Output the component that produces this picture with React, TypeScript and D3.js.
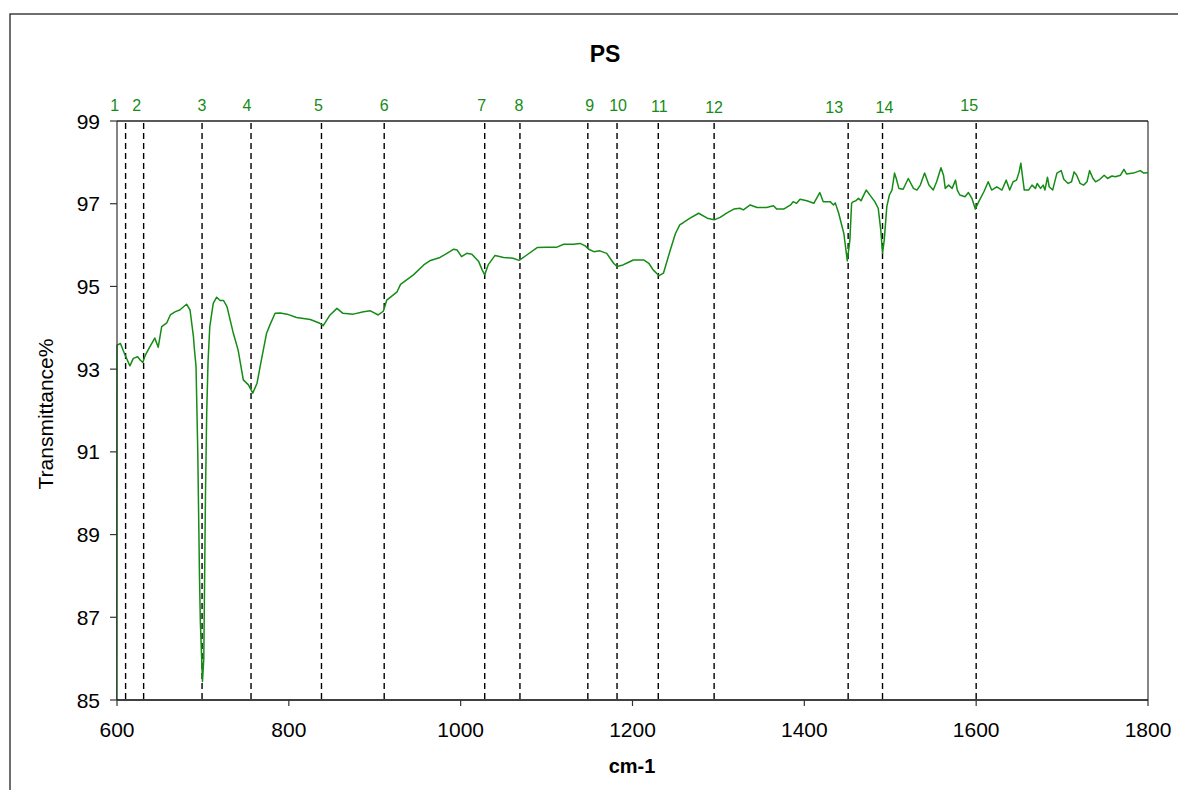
import React from "react";
import * as d3 from "d3";

// ---- data ----
const wavenumber = [
  599, 600, 604, 609, 615, 619, 624, 627, 630, 633, 638, 644, 648, 652, 658, 662, 668, 673, 681, 685, 689, 690, 692,
  694, 695, 696, 697, 699.5, 701, 702, 703, 704.4, 706, 708, 712, 716, 720, 724, 728, 735, 741, 747, 753, 758, 763,
  768, 774, 778, 784, 790, 798, 809, 825, 836, 840, 848, 856, 863, 875, 887, 895, 904, 910, 914, 926, 930, 945, 957,
  964, 976, 984, 992, 996, 1001, 1007, 1013, 1021, 1025, 1028, 1032, 1040, 1050, 1061, 1068, 1077, 1089, 1100, 1112,
  1120, 1131, 1139, 1145, 1149, 1155, 1162, 1170, 1178, 1182, 1189, 1193, 1201, 1213, 1219, 1224, 1231, 1236, 1244,
  1250, 1255, 1259, 1267, 1277, 1287, 1295, 1302, 1310, 1318, 1325, 1329, 1337, 1345, 1356, 1364, 1368, 1376, 1384,
  1387, 1391, 1395, 1403, 1411, 1418, 1422, 1430, 1434, 1436, 1440, 1446, 1450, 1453, 1455, 1457, 1460, 1463, 1466,
  1468, 1472, 1477, 1482, 1486, 1489, 1491, 1493, 1496, 1499, 1502, 1505, 1507, 1510, 1515, 1521, 1527, 1531, 1535,
  1540, 1545, 1550, 1554, 1559, 1562, 1564, 1568, 1572, 1576, 1578, 1581, 1587, 1591, 1595, 1599, 1603, 1609, 1614,
  1618, 1624, 1630, 1635, 1639, 1643, 1647, 1650, 1652, 1654, 1656, 1661, 1665, 1669, 1671, 1675, 1678, 1680, 1683,
  1685, 1689, 1694, 1699, 1702, 1707, 1711, 1714, 1717, 1721, 1725, 1729, 1732, 1736, 1739, 1744, 1749, 1753, 1758,
  1762, 1768, 1772, 1775, 1783, 1791, 1795, 1800,
];
const transmittance = [
  80, 93.58, 93.62, 93.36, 93.08, 93.26, 93.3, 93.22, 93.16, 93.34, 93.53, 93.75, 93.53, 94.03, 94.12, 94.31, 94.39,
  94.43, 94.57, 94.43, 93.78, 93.5, 93.06, 91.0, 89.5, 88.0, 86.9, 85.45, 86.0, 88.0, 90.0, 91.94, 93.2, 94.03, 94.59,
  94.74, 94.66, 94.66, 94.51, 93.9, 93.46, 92.74, 92.62, 92.42, 92.66, 93.22, 93.86, 94.07, 94.35, 94.36, 94.33,
  94.25, 94.2, 94.11, 94.05, 94.31, 94.47, 94.35, 94.33, 94.39, 94.41, 94.31, 94.4, 94.67, 94.87, 95.05, 95.28,
  95.52, 95.62, 95.7, 95.8, 95.9, 95.88, 95.72, 95.8, 95.78, 95.6, 95.4, 95.28, 95.52, 95.75, 95.7, 95.68, 95.63,
  95.76, 95.94, 95.95, 95.95, 96.02, 96.02, 96.04, 95.98, 95.9, 95.84, 95.86, 95.8, 95.56, 95.48, 95.52, 95.56,
  95.64, 95.64, 95.56, 95.4, 95.26, 95.32, 95.88, 96.28, 96.49, 96.54, 96.65, 96.77, 96.65, 96.61, 96.67, 96.78,
  96.87, 96.89, 96.85, 96.97, 96.91, 96.91, 96.95, 96.87, 96.87, 96.97, 97.05, 97.01, 97.11, 97.07, 97.01, 97.27,
  97.05, 97.05, 96.97, 97.02, 96.77, 96.28, 95.62, 96.12, 97.01, 97.05, 97.07, 97.13, 97.07, 97.16, 97.33, 97.19,
  97.05, 96.89, 96.36, 95.8, 96.12, 96.93, 97.21, 97.33, 97.74, 97.61, 97.37, 97.35, 97.61, 97.37, 97.33, 97.45,
  97.74, 97.45, 97.33, 97.53, 97.87, 97.69, 97.37, 97.45, 97.37, 97.57, 97.33, 97.21, 97.17, 97.27, 97.13, 96.87,
  97.05, 97.29, 97.53, 97.33, 97.41, 97.33, 97.57, 97.33, 97.53, 97.57, 97.77, 97.98, 97.65, 97.33, 97.33, 97.45,
  97.37, 97.49, 97.37, 97.45, 97.33, 97.64, 97.41, 97.33, 97.74, 97.8, 97.59, 97.49, 97.53, 97.77, 97.69, 97.49,
  97.45, 97.53, 97.8, 97.61, 97.53, 97.59, 97.69, 97.61, 97.67, 97.65, 97.69, 97.83, 97.72, 97.74, 97.8, 97.74,
  97.75,
];
const peakPositions = [610, 631, 699, 756, 838, 911, 1028, 1069, 1148, 1182, 1230, 1295, 1451, 1491, 1600];
const peakLabels = ["1", "2", "3", "4", "5", "6", "7", "8", "9", "10", "11", "12", "13", "14", "15"];
const xTicks = [600, 800, 1000, 1200, 1400, 1600, 1800];
const yTicks = [85, 87, 89, 91, 93, 95, 97, 99];
const title = "PS";
const xTitle = "cm-1";
const yTitle = "Transmittance%";

// ---- layout ----
const W = 1178;
const H = 790;
const PL = 117, PR = 1148, PT = 121, PB = 700;
const labelDx = [-11, -7, 0, -4, -3, 0, -3, -1, 2, 1, 1, 0, -14, 2, -7];
const labelDy = [0, 0, 0, 0, 0, 0, 0, 0, 0, 0, 1, 2, 2, 2, 0];
const GREEN = "#158c15";
const FONT = "Arial, 'Liberation Sans', Helvetica, sans-serif";

export default function App() {
  const x = d3.scaleLinear().domain([600, 1800]).range([PL, PR]);
  const y = d3.scaleLinear().domain([85, 99]).range([PB, PT]);
  const pts = wavenumber.map((w, i) => [w, transmittance[i]] as [number, number]);
  const line = d3
    .line<[number, number]>()
    .x((d) => x(d[0]))
    .y((d) => y(d[1]));
  const path = line(pts) || "";

  return (
    <svg
      width={W}
      height={H}
      style={{ position: "absolute", left: 0, top: 0, background: "#fff" }}
      fontFamily={FONT}
    >
      <defs>
        <clipPath id="plotclip">
          <rect x={PL - 1} y={PT} width={PR - PL + 1} height={PB - PT} />
        </clipPath>
      </defs>
      <rect x={0} y={0} width={W} height={H} fill="#fff" />
      {/* outer chart border */}
      <rect x={10} y={14} width={1300} height={900} fill="none" stroke="#222" strokeWidth={1.3} />

      {/* title */}
      <text x={605} y={62} textAnchor="middle" fontWeight="bold" fontSize={23} fill="#000">
        {title}
      </text>

      {/* plot frame top & right */}
      <line x1={PL} y1={PT} x2={PR} y2={PT} stroke="#222" strokeWidth={1.3} />
      <line x1={PR} y1={PT} x2={PR} y2={PB} stroke="#222" strokeWidth={1.1} />

      {/* dashed peak lines */}
      {peakPositions.map((p, i) => (
        <line
          key={"pk" + i}
          x1={x(p)}
          x2={x(p)}
          y1={PT + 2}
          y2={PB}
          stroke="#000"
          strokeWidth={1.4}
          strokeDasharray="6,4"
        />
      ))}

      {/* peak labels */}
      {peakPositions.map((p, i) => (
        <text
          key={"pl" + i}
          x={x(p) + labelDx[i]}
          y={111 + labelDy[i]}
          textAnchor="middle"
          fontSize={16}
          fill={GREEN}
        >
          {peakLabels[i]}
        </text>
      ))}

      {/* spectrum */}
      <path d={path} fill="none" stroke={GREEN} strokeWidth={1.5} clipPath="url(#plotclip)" strokeLinejoin="round" />

      {/* axes */}
      <line x1={PL} y1={PT} x2={PL} y2={PB} stroke="#333" strokeWidth={1.2} />
      <line x1={PL} y1={PB} x2={PR} y2={PB} stroke="#000" strokeWidth={1.5} />
      {yTicks.map((t) => (
        <g key={"yt" + t}>
          <line x1={PL - 7} x2={PL} y1={y(t)} y2={y(t)} stroke="#333" strokeWidth={1.2} />
          <text x={100} y={y(t) + 7.5} textAnchor="end" fontSize={21} fill="#000">
            {t}
          </text>
        </g>
      ))}
      {xTicks.map((t) => (
        <g key={"xt" + t}>
          <line x1={x(t)} x2={x(t)} y1={PB} y2={PB + 6} stroke="#333" strokeWidth={1.2} />
          <text x={x(t)} y={737} textAnchor="middle" fontSize={21} fill="#000">
            {t}
          </text>
        </g>
      ))}

      {/* axis titles */}
      <text x={632} y={773} textAnchor="middle" fontWeight="bold" fontSize={20} fill="#000">
        {xTitle}
      </text>
      <text
        transform={`translate(53, 414) rotate(-90)`}
        textAnchor="middle"
        fontSize={21}
        fill="#000"
      >
        {yTitle}
      </text>
    </svg>
  );
}
